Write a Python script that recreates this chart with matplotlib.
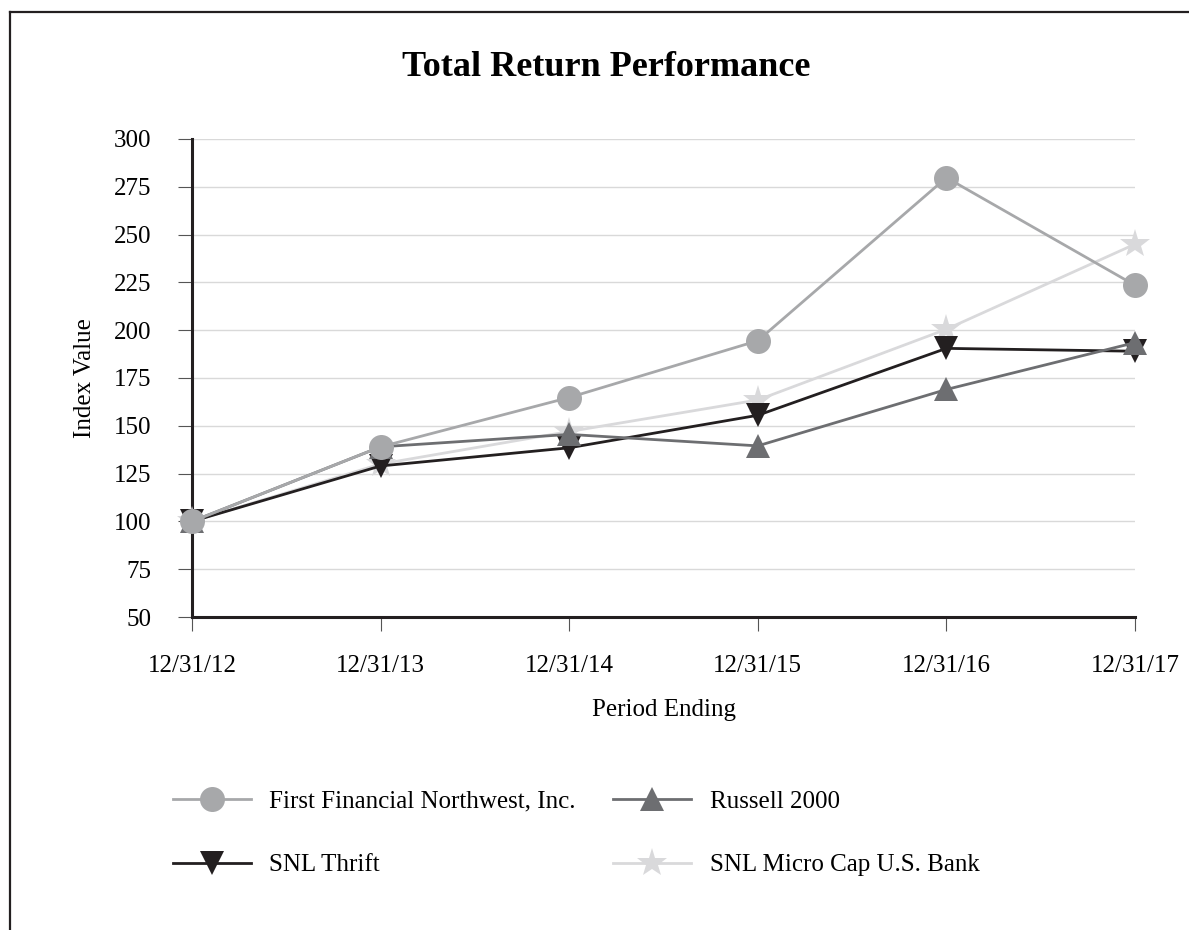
import matplotlib
matplotlib.use("Agg")
import matplotlib.pyplot as plt
from matplotlib.lines import Line2D

plt.rcParams['font.family'] = ['Liberation Serif', 'DejaVu Serif']

periods = ['12/31/12', '12/31/13', '12/31/14', '12/31/15', '12/31/16', '12/31/17']
ffnw = [100.0, 139.0, 164.8, 194.5, 279.8, 223.5]
russell = [100.0, 139.0, 145.5, 139.5, 169.0, 193.5]
thrift = [100.0, 129.0, 138.5, 155.5, 190.5, 189.0]
microcap = [100.0, 130.0, 147.0, 163.5, 200.5, 245.0]

x = list(range(len(periods)))

fig = plt.figure(figsize=(11.89, 9.30), dpi=100)
ax = fig.add_axes([192 / 1189, 1 - 617 / 930, (1135 - 192) / 1189, (617 - 139) / 930])

# series: (values, label, colour, marker, size, zorder)
series = [
    (microcap, 'SNL Micro Cap U.S. Bank', '#d9d9db', '*', 22, 3),
    (thrift, 'SNL Thrift', '#231f20', 'v', 17, 4),
    (russell, 'Russell 2000', '#6d6e71', '^', 17, 5),
    (ffnw, 'First Financial Northwest, Inc.', '#a7a8aa', 'o', 18, 6),
]
handles = {}
for vals, lab, col, mk, ms, z in series:
    ln, = ax.plot(x, vals, color=col, lw=2, marker=mk, markersize=ms,
                  markeredgewidth=0, label=lab, zorder=z, clip_on=False)
    handles[lab] = ln

ax.set_xlim(0, 5)
ax.set_ylim(50, 300)
ax.set_yticks(range(50, 301, 25))
ax.set_xticks(x)
ax.set_xticklabels(periods)
ax.grid(axis='y', color='#d9d9d9', lw=1)
ax.set_axisbelow(True)

for s in ['top', 'right']:
    ax.spines[s].set_visible(False)
for s in ['left', 'bottom']:
    ax.spines[s].set_linewidth(2.2)
    ax.spines[s].set_color('#231f20')
    ax.spines[s].set_zorder(2)

ax.tick_params(axis='y', length=10, width=0.8, color='#555555', pad=19, labelsize=18)
ax.tick_params(axis='x', length=10, width=0.8, color='#555555', pad=17, labelsize=18)

ax.set_ylabel('Index Value', fontsize=18, labelpad=13)
ax.set_xlabel('Period Ending', fontsize=18, labelpad=16)

fig.text(0.51, 1 - 67 / 930, 'Total Return Performance', ha='center', va='center',
         fontsize=26, fontweight='bold')

order = ['First Financial Northwest, Inc.', 'SNL Thrift', 'Russell 2000', 'SNL Micro Cap U.S. Bank']
fig.legend([handles[k] for k in order], order, ncol=2, frameon=False,
           loc='upper left', bbox_to_anchor=(163 / 1189, 1 - 780 / 930),
           fontsize=18, handlelength=3.1, handletextpad=0.75, columnspacing=1.5,
           labelspacing=1.65, borderaxespad=0)

# page frame (top and left edges)
fig.add_artist(Line2D([10 / 1189, 1.0], [1 - 12 / 930, 1 - 12 / 930], color='#231f20', lw=1.6))
fig.add_artist(Line2D([10 / 1189, 10 / 1189], [0, 1 - 12 / 930], color='#231f20', lw=1.6))

fig.savefig('out.png', dpi=100)
